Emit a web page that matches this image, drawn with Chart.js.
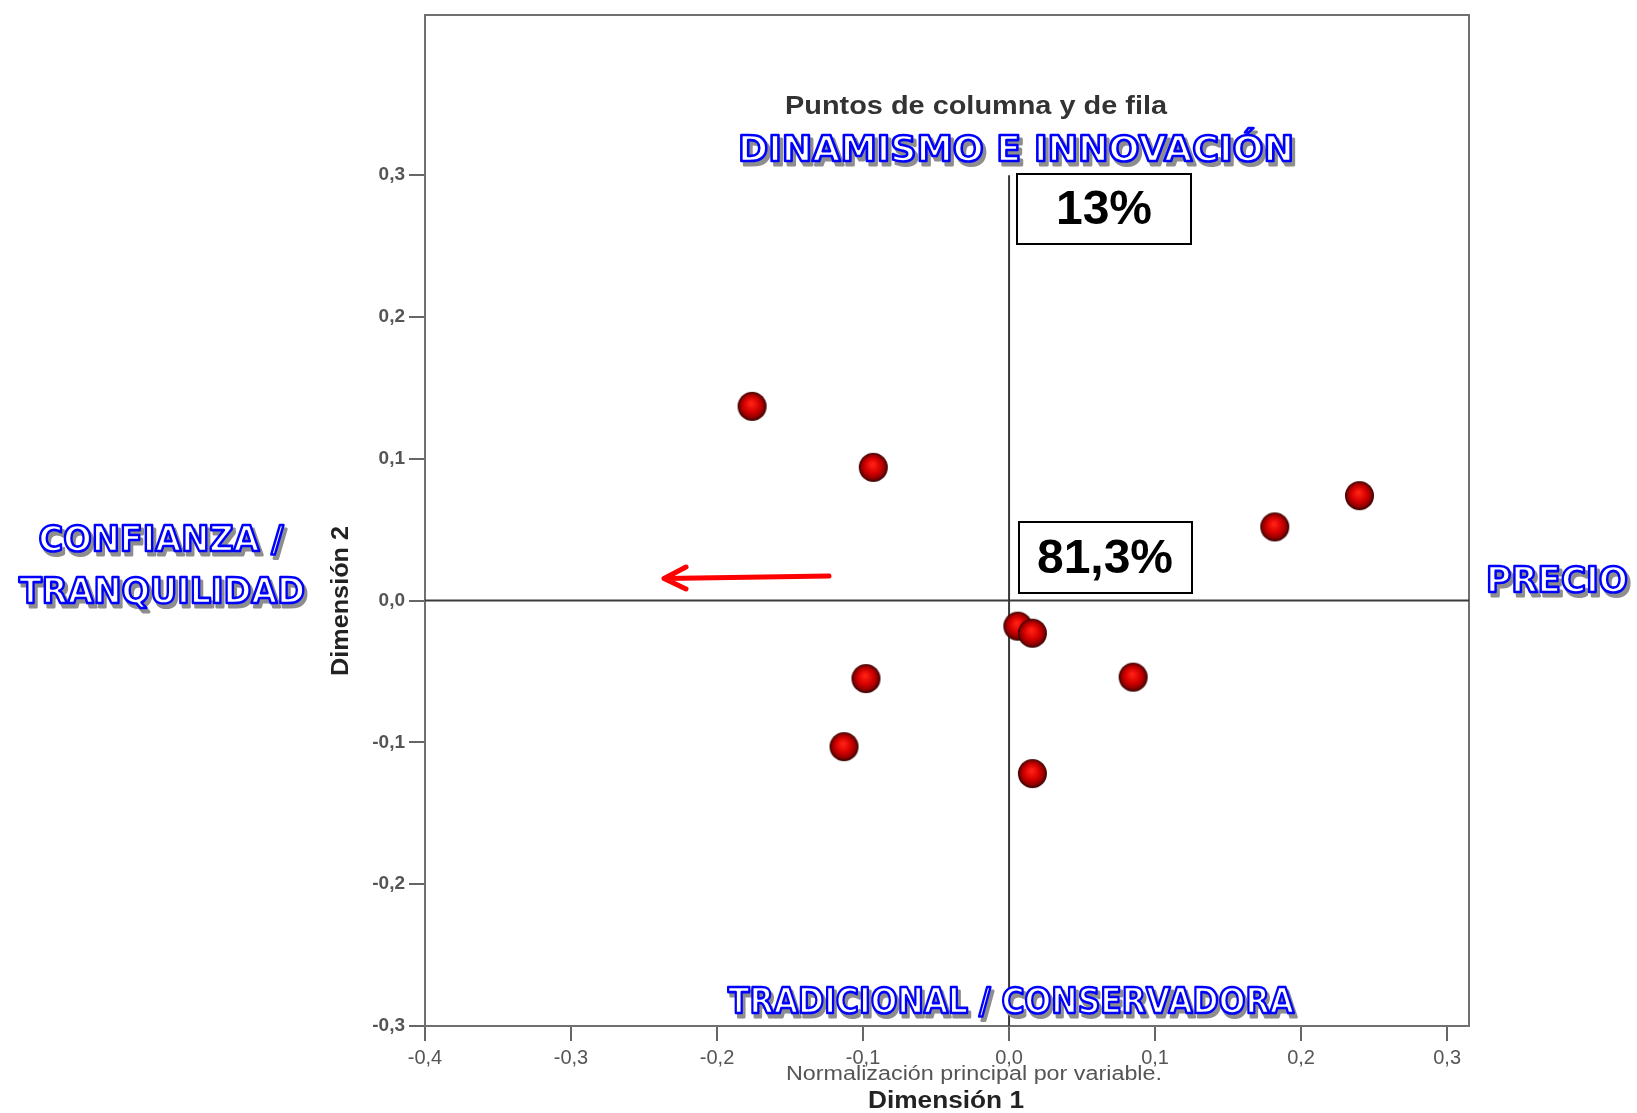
<!DOCTYPE html>
<html lang="es">
<head>
<meta charset="UTF-8">
<title>Puntos de columna y de fila</title>
<script src="https://cdn.jsdelivr.net/npm/chart.js"></script>
<style>
    body {
        margin: 0;
        background: #fff;
    }

    #chart-container {
        width: 1637px;
        height: 1113px;
        position: relative;
    }
</style>
</head>
<body>
<div id="chart-container">
    <canvas id="puntosChart"></canvas>
</div>

<script>
    // coordenadas de los puntos
    const dimension1 = [-0.176, -0.093, 0.182, 0.240, 0.006, 0.016, 0.085, -0.098, -0.113, 0.016];
    const dimension2 = [0.137, 0.094, 0.052, 0.074, -0.018, -0.023, -0.054, -0.055, -0.103, -0.122];

    const xTicks = [-0.4, -0.3, -0.2, -0.1, 0, 0.1, 0.2, 0.3];
    const xTickLabels = ['-0,4', '-0,3', '-0,2', '-0,1', '0,0', '0,1', '0,2', '0,3'];
    const yTicks = [-0.3, -0.2, -0.1, 0, 0.1, 0.2, 0.3];
    const yTickLabels = ['-0,3', '-0,2', '-0,1', '0,0', '0,1', '0,2', '0,3'];

    // inercia explicada por cada dimensión
    const inercia = ['81,3%', '13%'];

    // esfera roja para los puntos
    const esfera = (() => {
        const r = 14.5;
        const c = document.createElement('canvas');
        c.width = c.height = 31;
        const g = c.getContext('2d');
        const grad = g.createRadialGradient(14.5, 12.5, 1, 15.5, 15.5, r);
        grad.addColorStop(0, '#ff2014');
        grad.addColorStop(0.5, '#d40000');
        grad.addColorStop(0.82, '#8a0000');
        grad.addColorStop(1, '#2e0000');
        g.fillStyle = grad;
        g.beginPath();
        g.arc(15.5, 15.5, r, 0, Math.PI * 2);
        g.fill();
        return c;
    })();

    // texto escalado horizontalmente a un ancho dado
    function textoAjustado(ctx, txt, x, y, font, ancho, pinta) {
        ctx.save();
        ctx.font = font;
        const w = ctx.measureText(txt).width;
        ctx.translate(x, y);
        ctx.scale(ancho / w, 1);
        ctx.textAlign = 'center';
        ctx.textBaseline = 'middle';
        pinta(ctx, txt);
        ctx.restore();
    }

    // letras blancas con contorno azul y sombra gris
    function contorno(c, t) {
        c.lineJoin = 'round';
        c.fillStyle = '#8e8e8e';
        c.strokeStyle = '#8e8e8e';
        c.lineWidth = 3;
        c.fillText(t, 3, 3.5);
        c.strokeText(t, 3, 3.5);
        c.fillStyle = '#ffffff';
        c.fillText(t, 0, 0);
        c.strokeStyle = '#0000ff';
        c.lineWidth = 2.6;
        c.strokeText(t, 0, 0);
    }

    function relleno(color) {
        return (c, t) => {
            c.fillStyle = color;
            c.fillText(t, 0, 0);
        };
    }

    const anotaciones = {
        id: 'anotaciones',
        beforeDatasetsDraw(chart) {
            const { ctx, chartArea: a, scales: { x, y } } = chart;
            ctx.save();
            // marco
            ctx.strokeStyle = '#707070';
            ctx.lineWidth = 2;
            ctx.strokeRect(a.left, a.top, a.right - a.left, a.bottom - a.top);
            // líneas de referencia en 0
            ctx.strokeStyle = '#3a3a3a';
            ctx.beginPath();
            ctx.moveTo(a.left, y.getPixelForValue(0));
            ctx.lineTo(a.right, y.getPixelForValue(0));
            ctx.moveTo(x.getPixelForValue(0), y.getPixelForValue(0.3));
            ctx.lineTo(x.getPixelForValue(0), a.bottom);
            ctx.stroke();
            ctx.restore();
        },
        afterDraw(chart) {
            const ctx = chart.ctx;

            textoAjustado(ctx, 'Puntos de columna y de fila', 976, 107,
                'bold 25px "Liberation Sans", Arial, sans-serif', 382, relleno('#333'));

            const etiqueta = 'bold 36px "DejaVu Sans", sans-serif';
            textoAjustado(ctx, 'DINAMISMO E INNOVACIÓN', 1016, 152, etiqueta, 556, contorno);
            textoAjustado(ctx, 'TRADICIONAL / CONSERVADORA', 1011, 1004, etiqueta, 566, contorno);
            textoAjustado(ctx, 'CONFIANZA /', 161, 542, etiqueta, 245, contorno);
            textoAjustado(ctx, 'TRANQUILIDAD', 162, 594, etiqueta, 286, contorno);
            textoAjustado(ctx, 'PRECIO', 1557, 583, etiqueta, 142, contorno);

            // cajas con porcentajes
            ctx.save();
            ctx.strokeStyle = '#000';
            ctx.lineWidth = 2;
            ctx.fillStyle = '#fff';
            ctx.fillRect(1017, 174, 174, 70);
            ctx.strokeRect(1017, 174, 174, 70);
            ctx.fillRect(1019, 522, 173, 71);
            ctx.strokeRect(1019, 522, 173, 71);
            ctx.fillStyle = '#000';
            ctx.font = 'bold 48px "Liberation Sans", Arial, sans-serif';
            ctx.textAlign = 'center';
            ctx.textBaseline = 'middle';
            ctx.fillText(inercia[1], 1104, 211);
            ctx.fillText(inercia[0], 1105, 560);

            // flecha roja
            ctx.strokeStyle = '#ff0000';
            ctx.lineWidth = 5;
            ctx.lineCap = 'round';
            ctx.lineJoin = 'round';
            ctx.beginPath();
            ctx.moveTo(829, 576);
            ctx.lineTo(665, 578.5);
            ctx.moveTo(686, 567);
            ctx.lineTo(664, 578.5);
            ctx.lineTo(686, 589);
            ctx.stroke();
            ctx.restore();

            // títulos de los ejes
            textoAjustado(ctx, 'Normalización principal por variable.', 974, 1074,
                '20px "Liberation Sans Narrow", "Liberation Sans", Arial, sans-serif', 376, relleno('#555'));
            textoAjustado(ctx, 'Dimensión 1', 946, 1102,
                'bold 23px "Liberation Sans", Arial, sans-serif', 156, relleno('#222'));
            ctx.save();
            ctx.translate(342, 601);
            ctx.rotate(-Math.PI / 2);
            textoAjustado(ctx, 'Dimensión 2', 0, 0,
                'bold 23px "Liberation Sans", Arial, sans-serif', 150, relleno('#222'));
            ctx.restore();
        }
    };

    const puntos = dimension1.map((v, i) => ({ x: v, y: dimension2[i] }));

    const ctx = document.getElementById('puntosChart').getContext('2d');
    new Chart(ctx, {
        type: 'scatter',
        data: {
            datasets: [{
                label: 'Puntos',
                data: puntos,
                pointStyle: esfera,
                pointRadius: 14,
                pointHoverRadius: 14
            }]
        },
        options: {
            responsive: true,
            maintainAspectRatio: false,
            animation: false,
            layout: {
                padding: { top: 12, right: 168, left: 0, bottom: 0 }
            },
            scales: {
                x: {
                    type: 'linear',
                    min: -0.4,
                    max: 0.315,
                    afterBuildTicks: (axis) => {
                        axis.ticks = xTicks.map(v => ({ value: v }));
                    },
                    afterFit: (axis) => {
                        axis.height = 87;
                    },
                    border: { display: false },
                    grid: {
                        drawOnChartArea: false,
                        drawTicks: true,
                        tickLength: 15,
                        color: '#666',
                        lineWidth: 2
                    },
                    ticks: {
                        padding: 5,
                        color: '#555',
                        font: { family: '"Liberation Sans Narrow", "Liberation Sans", Arial', size: 20 },
                        callback: (value, index) => xTickLabels[index]
                    }
                },
                y: {
                    type: 'linear',
                    min: -0.3,
                    max: 0.413,
                    afterBuildTicks: (axis) => {
                        axis.ticks = yTicks.map(v => ({ value: v }));
                    },
                    afterFit: (axis) => {
                        axis.width = 425;
                        axis.paddingTop = 0;
                        axis.paddingBottom = 0;
                    },
                    border: { display: false },
                    grid: {
                        drawOnChartArea: false,
                        drawTicks: true,
                        tickLength: 16,
                        color: '#666',
                        lineWidth: 2
                    },
                    ticks: {
                        padding: 4,
                        color: '#555',
                        font: { family: '"Liberation Sans", Arial', size: 19, weight: 'bold' },
                        callback: (value, index) => yTickLabels[index]
                    }
                }
            },
            plugins: {
                legend: { display: false },
                tooltip: { enabled: false }
            }
        },
        plugins: [anotaciones]
    });
</script>
</body>
</html>
